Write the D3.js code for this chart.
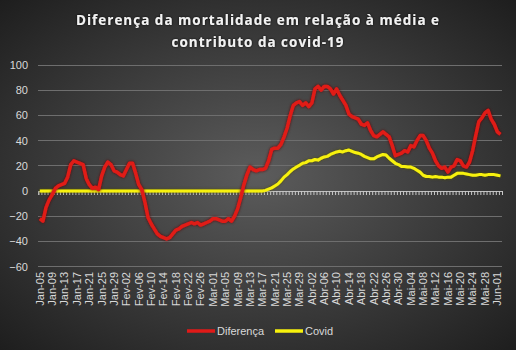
<!DOCTYPE html>
<html><head><meta charset="utf-8">
<script src="https://cdn.jsdelivr.net/npm/d3@7"></script>
<style>
html,body{margin:0;padding:0;background:#2a2a2a;}
svg{display:block;}
</style></head>
<body>
<svg id="c" width="516" height="350"></svg>
<script>
const titleLines = ["Diferença da mortalidade em relação à média e", "contributo da covid-19"];
const startDate = new Date(2020, 0, 5);
const monthNames = ["Jan","Fev","Mar","Abr","Mai","Jun"];
const tickLabels = ["Jan-05","Jan-09","Jan-13","Jan-17","Jan-21","Jan-25","Jan-29","Fev-02","Fev-06","Fev-10","Fev-14","Fev-18","Fev-22","Fev-26","Mar-01","Mar-05","Mar-09","Mar-13","Mar-17","Mar-21","Mar-25","Mar-29","Abr-02","Abr-06","Abr-10","Abr-14","Abr-18","Abr-22","Abr-26","Abr-30","Mai-04","Mai-08","Mai-12","Mai-16","Mai-20","Mai-24","Mai-28","Jun-01"];
const yTicks = [-60,-40,-20,0,20,40,60,80,100];
const seriesNames = ["Diferença","Covid"];
const diferenca = [-22,-24,-13,-7,-3,2,4,5,6,11,21,24,23,22,21,10,5,2,3,1,12,19,23,21,16,15,13,12,17,22,22,14,5,1,-9,-21,-26,-30,-34,-36,-37,-38,-37,-34,-31,-30,-28,-27,-26,-25,-26,-25,-27,-26,-25,-24,-22,-22,-23,-24,-24,-22,-24,-20,-14,-5,5,13,19,17,16,17,17,18,24,33,34,34,37,43,50,60,68,70,71,68,70,67,70,81,83,80,83,83,81,77,81,76,72,68,61,59,58,57,53,52,54,48,44,43,45,47,45,43,36,28,29,30,32,31,36,35,40,44,44,40,34,30,24,20,18,19,15,19,20,25,24,20,19,23,32,44,55,58,62,64,57,53,47,45];
const covid = [0,0,0,0,0,0,0,0,0,0,0,0,0,0,0,0,0,0,0,0,0,0,0,0,0,0,0,0,0,0,0,0,0,0,0,0,0,0,0,0,0,0,0,0,0,0,0,0,0,0,0,0,0,0,0,0,0,0,0,0,0,0,0,0,0,0,0,0,0,0,0,0,0,0.5,1.5,2.5,4,5.5,8,11,13,15.5,17.5,19,20.5,22,22.5,24,24,25,24.5,26,27,27.5,29,30,31,31.5,31,32,32.5,31.5,30.5,30,29,27.5,26.5,25.5,25.5,27,28,29,28.5,26,24,22,21,19.5,19.5,19,19,18,16.5,15,12.5,11.5,11.5,11,11.5,11,11,10.5,11,11,12.5,14,14,14,13.5,13,12.5,12.5,13,13,12.5,13,13,13,12.5,12];

const fmt = d => monthNames[d.getMonth()] + "-" + String(d.getDate()).padStart(2,"0");
const categories = diferenca.map((_, i) => fmt(d3.timeDay.offset(startDate, i)));

const svg = d3.select("#c");
const W = 516, H = 350;
const defs = svg.append("defs");
const rg = defs.append("radialGradient").attr("id","bg").attr("cx","50%").attr("cy","50%").attr("r","75%");
rg.append("stop").attr("offset","0%").attr("stop-color","#5c5c5c");
rg.append("stop").attr("offset","100%").attr("stop-color","#1a1a1a");
function glow(id, color, sd, op){
  const f = defs.append("filter").attr("id", id).attr("x","-20%").attr("y","-20%").attr("width","140%").attr("height","140%");
  f.append("feDropShadow").attr("dx",0).attr("dy",0).attr("stdDeviation",sd).attr("flood-color",color).attr("flood-opacity",op);
}
glow("gRed","#5a0000",1.6,0.9);
glow("gYel","#4a4a00",1.4,0.9);
glow("gTxt","#000000",1.2,0.9);

svg.append("rect").attr("width",W).attr("height",H).attr("fill","url(#bg)");

const left = 38.3, right = 502;
const x = d3.scaleBand().domain(categories).range([left, right]).padding(0);
const xb = d3.scaleLinear().domain([0, categories.length]).range([left, right]);
const y = d3.scaleLinear().domain([-60, 100]).range([266.6, 65]);
const cx = d => x(d) + x.bandwidth()/2;

// gridlines
svg.append("g").selectAll("line").data(yTicks.filter(v => v !== 0)).join("line")
  .attr("x1", left).attr("x2", right).attr("y1", d => y(d)).attr("y2", d => y(d))
  .attr("stroke","#6e6e6e").attr("stroke-width",1).attr("shape-rendering","crispEdges");

// y axis labels
const yAxis = svg.append("g").attr("transform",`translate(28,0)`)
  .call(d3.axisLeft(y).tickValues(yTicks).tickSize(0).tickPadding(0).tickFormat(d3.format("d")));
yAxis.select(".domain").remove();
yAxis.selectAll("text").attr("fill","#d9d9d9").attr("font-family","'Liberation Sans', Arial, sans-serif").attr("font-size","11px");

// zero axis with ticks
const zAxis = svg.append("g").attr("transform",`translate(0,${y(0)})`)
  .call(d3.axisBottom(xb).tickValues(d3.range(0, categories.length + 1)).tickSize(4).tickFormat(""));
zAxis.select(".domain").attr("stroke","#bfbfbf").attr("stroke-width",1);
zAxis.selectAll(".tick line").attr("stroke","#c8c8c8").attr("stroke-width",1);

// x labels
const tickCats = categories.filter(c => tickLabels.includes(c));
const xAxis = svg.append("g").attr("transform","translate(0,272)")
  .call(d3.axisBottom(x).tickValues(tickCats).tickSize(0).tickPadding(0));
xAxis.select(".domain").remove();
xAxis.selectAll("text")
  .attr("fill","#d9d9d9").attr("font-family","'Liberation Sans', Arial, sans-serif").attr("font-size","11px")
  .attr("text-anchor","end").attr("transform","rotate(-90)").attr("x",0).attr("y",0).attr("dy","0.35em");

// lines
const line = d3.line().x((d,i) => cx(categories[i])).y(d => y(d)).curve(d3.curveLinear);
svg.append("path").datum(covid).attr("d", line).attr("fill","none")
  .attr("stroke","#f7f10c").attr("stroke-width",3).attr("stroke-linejoin","round").attr("filter","url(#gYel)");
svg.append("path").datum(diferenca).attr("d", line).attr("fill","none")
  .attr("stroke","#e01a18").attr("stroke-width",3.5).attr("stroke-linejoin","round").attr("filter","url(#gRed)");

// title
const t = svg.append("g").attr("filter","url(#gTxt)");
t.selectAll("text").data(titleLines).join("text")
  .attr("x", 258).attr("y", (d,i) => 25 + i*22)
  .attr("text-anchor","middle").attr("fill","#f2f2f2")
  .attr("font-family","'Open Sans', 'DejaVu Sans', sans-serif").attr("font-weight","bold").attr("font-size","13.5px")
  .attr("letter-spacing","1px")
  .text(d => d);

// legend
const legendColors = ["#e01a18","#f7f10c"];
const lg = svg.append("g");
const lx = [187, 275];
seriesNames.forEach((n, i) => {
  lg.append("line").attr("x1", lx[i]).attr("x2", lx[i] + 28).attr("y1", 331).attr("y2", 331)
    .attr("stroke", legendColors[i]).attr("stroke-width", 3.5);
  lg.append("text").attr("x", lx[i] + 30).attr("y", 331).attr("dy","0.35em")
    .attr("fill","#d9d9d9").attr("font-family","'Liberation Sans', Arial, sans-serif").attr("font-size","11px")
    .text(n);
});
</script>
</body></html>
